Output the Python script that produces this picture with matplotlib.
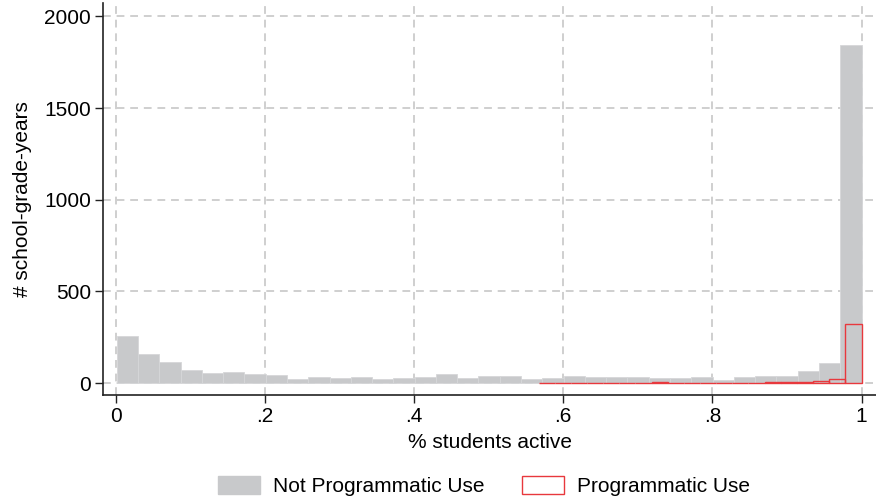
import numpy as np
import matplotlib
matplotlib.use('Agg')
import matplotlib.pyplot as plt
from matplotlib.patches import Patch

# ---------------------------- data ----------------------------
# share of students active, histogram counts (school-grade-years)
gray_lo, gray_hi = 0.0016, 1.0
gray_counts = [257, 160, 113, 71, 55, 60, 50, 44, 22, 31, 28, 31, 22, 29, 33,
               48, 29, 39, 39, 22, 29, 39, 31, 33, 33, 30, 30, 35, 18, 33,
               39, 39, 68, 108, 1845]
red_lo, red_hi = 0.567, 1.0
red_counts = [3, 0, 3, 2, 3, 3, 2, 4, 3, 0, 0, 2, 3, 3, 4, 5, 7, 11, 20, 320]

x_ticks = [0, 0.2, 0.4, 0.6, 0.8, 1.0]
x_ticklabels = ['0', '.2', '.4', '.6', '.8', '1']
y_ticks = [0, 500, 1000, 1500, 2000]
labels = ['Not Programmatic Use', 'Programmatic Use']

GRAY = '#c8c9cb'
RED = '#e8383d'
FS = 15

plt.rcParams['font.family'] = ['Liberation Sans', 'DejaVu Sans']
plt.rcParams['font.size'] = FS

fig = plt.figure(figsize=(8.76, 5.01), dpi=100)
ax = fig.add_axes([0.1176, 0.2116, 0.8824, 0.7824])

# gray histogram
g_edges = np.linspace(gray_lo, gray_hi, len(gray_counts) + 1)
ax.bar(g_edges[:-1], gray_counts, width=np.diff(g_edges), align='edge',
       color=GRAY, edgecolor='#d6d7d9', linewidth=0.6, zorder=2)

# red outline histogram
r_edges = np.linspace(red_lo, red_hi, len(red_counts) + 1)
ax.bar(r_edges[:-1], red_counts, width=np.diff(r_edges), align='edge',
       facecolor='none', edgecolor=RED, linewidth=1.0, zorder=3)

ax.set_xlim(-0.0168, 1.0194)
ax.set_ylim(-65, 2073)
ax.set_xticks(x_ticks)
ax.set_xticklabels(x_ticklabels)
ax.set_yticks(y_ticks)

ax.grid(True, color='#cfcfcf', linestyle=(0, (4, 3)), linewidth=1.4, zorder=0)
ax.set_axisbelow(True)

for s in ['top', 'right']:
    ax.spines[s].set_visible(False)
for s in ['left', 'bottom']:
    ax.spines[s].set_color('#222222')
    ax.spines[s].set_linewidth(1.2)
ax.tick_params(axis='both', direction='out', length=5.5, width=1.0,
               color='#222222', labelsize=FS, pad=3)

ax.set_xlabel('% students active', fontsize=FS, labelpad=5)
ax.set_ylabel('# school-grade-years', fontsize=FS, labelpad=9)

handles = [Patch(facecolor=GRAY, edgecolor=GRAY),
           Patch(facecolor='none', edgecolor=RED, linewidth=1.0)]
fig.legend(handles, labels, loc='center', bbox_to_anchor=(0.5525, 0.03),
           ncol=2, frameon=False, fontsize=FS, handlelength=2.0,
           handleheight=1.0, handletextpad=0.63, columnspacing=1.8)

fig.savefig('out.png', dpi=100)
